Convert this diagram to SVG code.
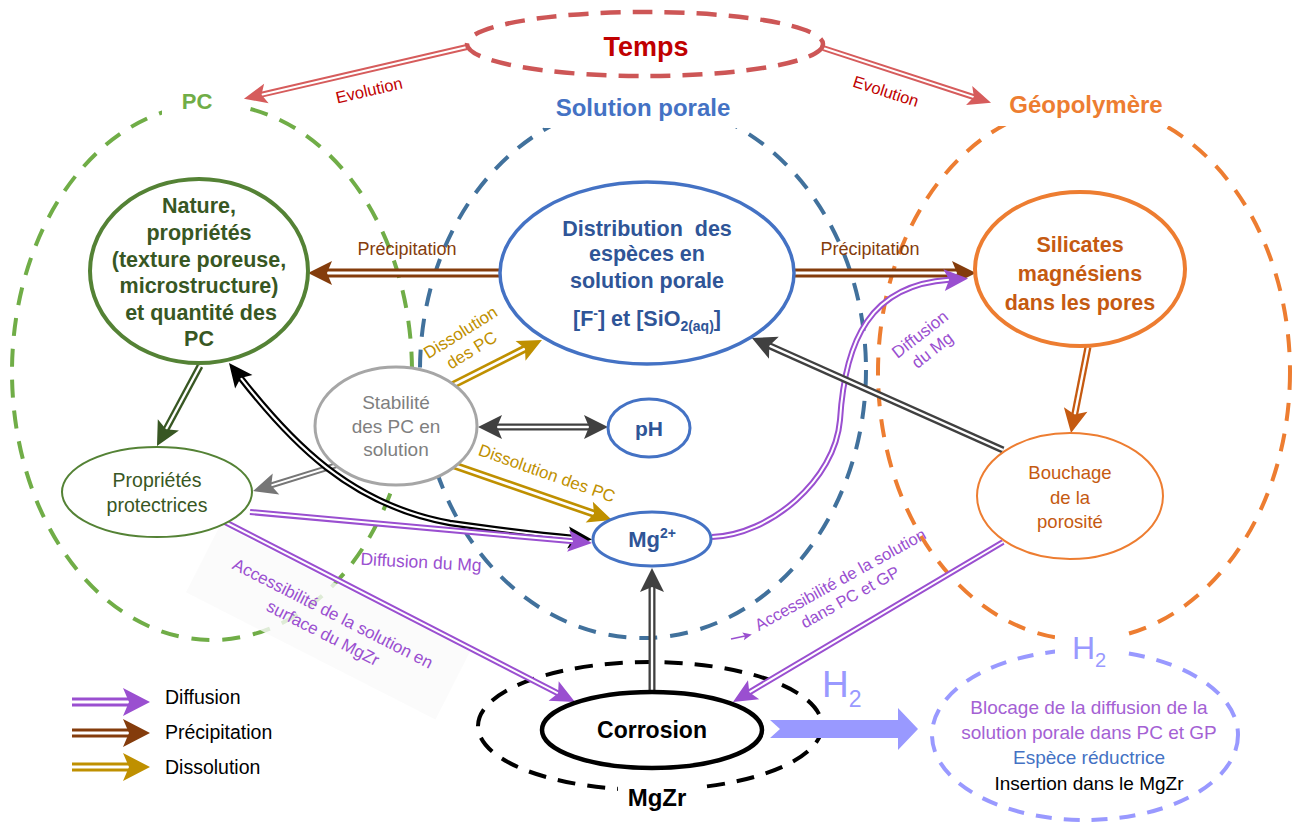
<svg xmlns="http://www.w3.org/2000/svg" width="1301" height="824" viewBox="0 0 1301 824">
<defs>
<style>
text { font-family: "Liberation Sans", Arial, sans-serif; }
.b { font-weight: bold; }
.m { text-anchor: middle; }
.circ { fill: none; stroke-width: 4; stroke-dasharray: 18 13; }
.hd { fill: none; stroke: none; }
.in { fill: none; stroke: #ffffff; }
.out { fill: none; }
.node { fill: #ffffff; }
.pre { white-space: pre; }
</style>
<marker id="mRed" viewBox="-10 -20 40 40" markerWidth="40" markerHeight="40" refX="0" refY="0" markerUnits="userSpaceOnUse" orient="auto-start-reverse"><path d="M-5,-10 L18,0 L-5,10 L0,0 Z" fill="#d65c5c"/></marker>
<marker id="mBrown" viewBox="-10 -20 40 40" markerWidth="40" markerHeight="40" refX="0" refY="0" markerUnits="userSpaceOnUse" orient="auto-start-reverse"><path d="M-5,-12 L19,0 L-5,12 L0,0 Z" fill="#843c0c"/></marker>
<marker id="mGold" viewBox="-10 -20 40 40" markerWidth="40" markerHeight="40" refX="0" refY="0" markerUnits="userSpaceOnUse" orient="auto-start-reverse"><path d="M-5,-11 L19,0 L-5,11 L0,0 Z" fill="#bf9000"/></marker>
<marker id="mDGray" viewBox="-10 -20 40 40" markerWidth="40" markerHeight="40" refX="0" refY="0" markerUnits="userSpaceOnUse" orient="auto-start-reverse"><path d="M-5,-12 L19,0 L-5,12 L0,0 Z" fill="#404040"/></marker>
<marker id="mGray" viewBox="-10 -20 40 40" markerWidth="40" markerHeight="40" refX="0" refY="0" markerUnits="userSpaceOnUse" orient="auto-start-reverse"><path d="M-5,-11 L19,0 L-5,11 L0,0 Z" fill="#767676"/></marker>
<marker id="mGreen" viewBox="-10 -20 40 40" markerWidth="40" markerHeight="40" refX="0" refY="0" markerUnits="userSpaceOnUse" orient="auto-start-reverse"><path d="M-5,-12 L19,0 L-5,12 L0,0 Z" fill="#385723"/></marker>
<marker id="mBlack" viewBox="-10 -20 40 40" markerWidth="40" markerHeight="40" refX="0" refY="0" markerUnits="userSpaceOnUse" orient="auto-start-reverse"><path d="M-5,-11 L19,0 L-5,11 L0,0 Z" fill="#000000"/></marker>
<marker id="mPurple" viewBox="-10 -20 40 40" markerWidth="40" markerHeight="40" refX="0" refY="0" markerUnits="userSpaceOnUse" orient="auto-start-reverse"><path d="M-5,-11 L19,0 L-5,11 L0,0 Z" fill="#9a4fd0"/></marker>
<marker id="mOrange" viewBox="-10 -20 40 40" markerWidth="40" markerHeight="40" refX="0" refY="0" markerUnits="userSpaceOnUse" orient="auto-start-reverse"><path d="M-5,-12 L19,0 L-5,12 L0,0 Z" fill="#c55a11"/></marker>
<marker id="mPurpleL" viewBox="-10 -20 40 40" markerWidth="40" markerHeight="40" refX="0" refY="0" markerUnits="userSpaceOnUse" orient="auto-start-reverse"><path d="M-6,-14 L21,0 L-6,14 L0,0 Z" fill="#9a4fd0"/></marker>
<marker id="mBrownL" viewBox="-10 -20 40 40" markerWidth="40" markerHeight="40" refX="0" refY="0" markerUnits="userSpaceOnUse" orient="auto-start-reverse"><path d="M-6,-14 L21,0 L-6,14 L0,0 Z" fill="#843c0c"/></marker>
<marker id="mGoldL" viewBox="-10 -20 40 40" markerWidth="40" markerHeight="40" refX="0" refY="0" markerUnits="userSpaceOnUse" orient="auto-start-reverse"><path d="M-6,-14 L21,0 L-6,14 L0,0 Z" fill="#bf9000"/></marker>
<marker id="mTiny" viewBox="-10 -20 40 40" markerWidth="40" markerHeight="40" refX="0" refY="0" markerUnits="userSpaceOnUse" orient="auto-start-reverse"><path d="M-2,-4 L7,0 L-2,4 L0,0 Z" fill="#9a4fd0"/></marker>
</defs>
<rect width="1301" height="824" fill="#ffffff"/>

<g id="region-pc">
<ellipse cx="212" cy="372" rx="200" ry="268" stroke="#70ad47" class="circ"/>
<rect x="162" y="80" width="78" height="38" fill="#ffffff"/>
<text x="197" y="109" class="b m" font-size="22" fill="#70ad47">PC</text>
</g>
<g id="region-solution">
<ellipse cx="643" cy="370" rx="223" ry="268" stroke="#41719c" class="circ"/>
<rect x="544" y="84" width="200" height="44" fill="#ffffff"/>
<text x="643" y="115.5" class="b m" font-size="24" fill="#4472c4">Solution porale</text>
</g>
<g id="region-geo">
<ellipse cx="1084" cy="372" rx="206" ry="268" stroke="#ed7d31" class="circ"/>
<rect x="996" y="82" width="180" height="44" fill="#ffffff"/>
<text x="1086" y="112.5" class="b m" font-size="24" fill="#ed7d31">Géopolymère</text>
</g>

<g id="mgzr">
<ellipse cx="650" cy="726" rx="172" ry="64" fill="none" stroke="#000000" stroke-width="4" stroke-dasharray="18 12"/>
<rect x="618" y="782" width="80" height="36" fill="#ffffff"/>
<text x="657" y="806" class="b m" font-size="24" fill="#000000">MgZr</text>
</g>

<g id="h2-effects">
<ellipse cx="1085" cy="735" rx="153" ry="85" fill="#ffffff" stroke="#9999ff" stroke-width="4" stroke-dasharray="16 12"/>
<rect x="1055" y="626" width="70" height="42" fill="#ffffff"/>
<text x="1072" y="659" font-size="32" fill="#9999ff">H<tspan font-size="20" dy="8">2</tspan></text>
<text x="1089" y="713.5" class="m" font-size="19" fill="#a461d4">Blocage de la diffusion de la</text>
<text x="1089" y="738.5" class="m" font-size="19" fill="#a461d4">solution porale dans PC et GP</text>
<text x="1089" y="763.5" class="m" font-size="19" fill="#4472c4">Espèce réductrice</text>
<text x="1089" y="789.5" class="m" font-size="19" fill="#000000">Insertion dans le MgZr</text>
</g>

<rect x="-140" y="-38" width="280" height="76" transform="translate(328,622) rotate(27)" fill="#fafafa" fill-opacity="0.8"/>

<g id="connectors">
<g id="c-evolution-left">
<path d="M467,47 L261.5,94.7" class="out" stroke="#d65c5c" stroke-width="6"/>
<path d="M467,47 L261.5,94.7" class="in" stroke-width="2"/>
<path d="M467,47 L261.5,94.7" class="hd" marker-end="url(#mRed)"/>
<text transform="translate(369,90) rotate(-13)" x="0" y="6" class="m" font-size="16.5" fill="#c00000">Evolution</text>
</g>
<g id="c-evolution-right">
<path d="M823,48 L973.9,97.1" class="out" stroke="#d65c5c" stroke-width="6"/>
<path d="M823,48 L973.9,97.1" class="in" stroke-width="2"/>
<path d="M823,48 L973.9,97.1" class="hd" marker-end="url(#mRed)"/>
<text transform="translate(886,91) rotate(18)" x="0" y="6" class="m" font-size="16.5" fill="#c00000">Evolution</text>
</g>
<g id="c-precip-left">
<path d="M500,273 L327,273" class="out" stroke="#843c0c" stroke-width="9"/>
<path d="M500,273 L327,273" class="in" stroke-width="3"/>
<path d="M500,273 L327,273" class="hd" marker-end="url(#mBrown)"/>
<text x="407" y="254.5" class="m" font-size="18" fill="#843c0c">Précipitation</text>
</g>
<g id="c-precip-right">
<path d="M793,273 L957,273" class="out" stroke="#843c0c" stroke-width="9"/>
<path d="M793,273 L957,273" class="in" stroke-width="3"/>
<path d="M793,273 L957,273" class="hd" marker-end="url(#mBrown)"/>
<text x="870" y="254.5" class="m" font-size="18" fill="#843c0c">Précipitation</text>
</g>
<g id="c-dissolution-up">
<path d="M453,385 L525,348.6" class="out" stroke="#bf9000" stroke-width="8"/>
<path d="M453,385 L525,348.6" class="in" stroke-width="2.7"/>
<path d="M453,385 L525,348.6" class="hd" marker-end="url(#mGold)"/>
<g transform="translate(466,341) rotate(-32)">
<text x="0" y="-4.5" class="m" font-size="17" fill="#bf9000">Dissolution</text>
<text x="0" y="16.5" class="m" font-size="17" fill="#bf9000">des PC</text>
</g>
</g>
<g id="c-dissolution-down">
<path d="M453,465 L594,513.8" class="out" stroke="#bf9000" stroke-width="8"/>
<path d="M453,465 L594,513.8" class="in" stroke-width="2.7"/>
<path d="M453,465 L594,513.8" class="hd" marker-end="url(#mGold)"/>
<text transform="translate(547,473) rotate(19.5)" x="0" y="6" class="m" font-size="17" fill="#bf9000">Dissolution des PC</text>
</g>
<g id="c-stab-ph">
<path d="M497,427 L589,427" class="out" stroke="#404040" stroke-width="7"/>
<path d="M497,427 L589,427" class="in" stroke-width="2.4"/>
<path d="M497,427 L589,427" class="hd" marker-start="url(#mDGray)" marker-end="url(#mDGray)"/>
</g>
<g id="c-stab-prop">
<path d="M337,465 L271.2,485.4" class="out" stroke="#767676" stroke-width="6"/>
<path d="M337,465 L271.2,485.4" class="in" stroke-width="2"/>
<path d="M337,465 L271.2,485.4" class="hd" marker-end="url(#mGray)"/>
</g>
<g id="c-nature-prop">
<path d="M200,366 L166,429.3" class="out" stroke="#385723" stroke-width="7"/>
<path d="M200,366 L166,429.3" class="in" stroke-width="2.4"/>
<path d="M200,366 L166,429.3" class="hd" marker-end="url(#mGreen)"/>
</g>
<g id="c-nature-mg">
<path d="M240.7,377.9 C290,441 350,505 450,523 C500,530 540,535 573.1,537.9" class="out" stroke="#000000" stroke-width="6.5"/>
<path d="M240.7,377.9 C290,441 350,505 450,523 C500,530 540,535 573.1,537.9" class="in" stroke-width="2.2"/>
<path d="M240.7,377.9 C290,441 350,505 450,523 C500,530 540,535 573.1,537.9" class="hd" marker-start="url(#mBlack)" marker-end="url(#mBlack)"/>
</g>
<g id="c-diffusion-mg">
<path d="M250,512 L573.1,541.3" class="out" stroke="#9a4fd0" stroke-width="6"/>
<path d="M250,512 L573.1,541.3" class="in" stroke-width="2"/>
<path d="M250,512 L573.1,541.3" class="hd" marker-end="url(#mPurple)"/>
<text transform="translate(421,562) rotate(3)" x="0" y="6" class="m" font-size="17.5" fill="#9a4fd0">Diffusion du Mg</text>
</g>
<g id="c-access-pc">
<path d="M225,522 L558.1,693.3" class="out" stroke="#9a4fd0" stroke-width="6"/>
<path d="M225,522 L558.1,693.3" class="in" stroke-width="2"/>
<path d="M225,522 L558.1,693.3" class="hd" marker-end="url(#mPurple)"/>
<g transform="translate(328,623) rotate(27)">
<text x="0" y="-5" class="m" font-size="17" fill="#9a4fd0">Accessibilité de la solution en</text>
<text x="0" y="17" class="m" font-size="17" fill="#9a4fd0">surface du MgZr</text>
</g>
</g>
<g id="c-access-gp">
<path d="M1003,542 L749.3,692.3" class="out" stroke="#9a4fd0" stroke-width="6"/>
<path d="M1003,542 L749.3,692.3" class="in" stroke-width="2"/>
<path d="M1003,542 L749.3,692.3" class="hd" marker-end="url(#mPurple)"/>
<g transform="translate(845,588) rotate(-29)">
<text x="0" y="-4" class="m" font-size="16.5" fill="#9a4fd0">Accessibilité de la solution</text>
<text x="0" y="16" class="m" font-size="16.5" fill="#9a4fd0">dans PC et GP</text>
</g>
<path d="M731,639 L745,636" fill="none" stroke="#9a4fd0" stroke-width="1.5" marker-end="url(#mTiny)"/>
</g>
<g id="c-mg-silicates">
<path d="M712,537 C770,535 835,480 840,420 C845,340 870,285 949.1,279.8" class="out" stroke="#9a4fd0" stroke-width="6"/>
<path d="M712,537 C770,535 835,480 840,420 C845,340 870,285 949.1,279.8" class="in" stroke-width="2"/>
<path d="M712,537 C770,535 835,480 840,420 C845,340 870,285 949.1,279.8" class="hd" marker-end="url(#mPurple)"/>
<g transform="translate(926,342) rotate(-38)">
<text x="0" y="-4" class="m" font-size="17" fill="#9a4fd0">Diffusion</text>
<text x="0" y="16" class="m" font-size="17" fill="#9a4fd0">du Mg</text>
</g>
</g>
<g id="c-bouchage-dist">
<path d="M1003,450 L769.3,345.7" class="out" stroke="#404040" stroke-width="7"/>
<path d="M1003,450 L769.3,345.7" class="in" stroke-width="2.4"/>
<path d="M1003,450 L769.3,345.7" class="hd" marker-end="url(#mDGray)"/>
</g>
<g id="c-sil-bouchage">
<path d="M1088,347 L1074.7,414.4" class="out" stroke="#c55a11" stroke-width="7"/>
<path d="M1088,347 L1074.7,414.4" class="in" stroke-width="2.4"/>
<path d="M1088,347 L1074.7,414.4" class="hd" marker-end="url(#mOrange)"/>
</g>
<g id="c-corr-mg">
<path d="M652,692 L652,587" class="out" stroke="#404040" stroke-width="7"/>
<path d="M652,692 L652,587" class="in" stroke-width="2.4"/>
<path d="M652,692 L652,587" class="hd" marker-end="url(#mDGray)"/>
</g>
<g id="c-h2">
<polygon points="770,720 898,720 898,708 918,729 898,750 898,738 770,738 780,729" fill="#9999ff"/>
<text x="822" y="697" font-size="37" fill="#9999ff">H<tspan font-size="23" dy="10">2</tspan></text>
</g>
</g>

<g id="node-temps">
<ellipse cx="645" cy="44" rx="178" ry="32" fill="#ffffff" stroke="#cd5656" stroke-width="4.5" stroke-dasharray="20 12"/>
<text x="646" y="55.5" class="b m" font-size="27" fill="#c00000">Temps</text>
</g>
<g id="node-nature">
<ellipse cx="199" cy="271" rx="109" ry="92" class="node" stroke="#548235" stroke-width="4"/>
<text x="199" y="212.5" class="b m" font-size="21.5" fill="#385723">Nature,</text>
<text x="199" y="239.5" class="b m" font-size="21.5" fill="#385723">propriétés</text>
<text x="199" y="267" class="b m" font-size="21.5" fill="#385723">(texture poreuse,</text>
<text x="199" y="293" class="b m" font-size="21.5" fill="#385723">microstructure)</text>
<text x="201" y="319.5" class="b m" font-size="21.5" fill="#385723">et quantité des</text>
<text x="199" y="345.5" class="b m" font-size="21.5" fill="#385723">PC</text>
</g>
<g id="node-distribution">
<ellipse cx="647" cy="273" rx="147" ry="91" class="node" stroke="#4472c4" stroke-width="3.5"/>
<text x="647" y="235.5" class="b m pre" font-size="21.5" fill="#2f5597">Distribution  des</text>
<text x="647" y="260.5" class="b m" font-size="21.5" fill="#2f5597">espèces en</text>
<text x="647" y="287.5" class="b m" font-size="21.5" fill="#2f5597">solution porale</text>
<text x="647" y="325.5" class="b m" font-size="21.5" fill="#2f5597">[F<tspan font-size="14" dy="-8">-</tspan><tspan dy="8">] et [SiO</tspan><tspan font-size="14" dy="5">2(aq)</tspan><tspan dy="-5">]</tspan></text>
</g>
<g id="node-silicates">
<ellipse cx="1080" cy="269" rx="105" ry="77" class="node" stroke="#ed7d31" stroke-width="4"/>
<text x="1080" y="251.5" class="b m" font-size="21.5" fill="#c55a11">Silicates</text>
<text x="1080" y="280.5" class="b m" font-size="21.5" fill="#c55a11">magnésiens</text>
<text x="1080" y="309.5" class="b m" font-size="21.5" fill="#c55a11">dans les pores</text>
</g>
<g id="node-stabilite">
<ellipse cx="396" cy="426" rx="81" ry="59" class="node" stroke="#a6a6a6" stroke-width="3"/>
<text x="396" y="409" class="m" font-size="19" fill="#7f7f7f">Stabilité</text>
<text x="396" y="433" class="m" font-size="19" fill="#7f7f7f">des PC en</text>
<text x="396" y="456" class="m" font-size="19" fill="#7f7f7f">solution</text>
</g>
<g id="node-ph">
<ellipse cx="649" cy="428" rx="41" ry="29" class="node" stroke="#4472c4" stroke-width="3"/>
<text x="649" y="435.5" class="b m" font-size="21" fill="#2f5597">pH</text>
</g>
<g id="node-mg">
<ellipse cx="652" cy="539" rx="59" ry="27" class="node" stroke="#4472c4" stroke-width="3"/>
<text x="652" y="547" class="b m" font-size="22" fill="#2f5597">Mg<tspan font-size="14" dy="-9">2+</tspan></text>
</g>
<g id="node-proprietes">
<ellipse cx="157" cy="492" rx="95" ry="45" class="node" stroke="#548235" stroke-width="2"/>
<text x="157" y="487" class="m" font-size="19.5" fill="#385723">Propriétés</text>
<text x="157" y="512" class="m" font-size="19.5" fill="#385723">protectrices</text>
</g>
<g id="node-bouchage">
<ellipse cx="1070" cy="496" rx="93" ry="63" class="node" stroke="#ed7d31" stroke-width="2"/>
<text x="1070" y="478.5" class="m" font-size="18.5" fill="#c55a11">Bouchage</text>
<text x="1070" y="503.5" class="m" font-size="18.5" fill="#c55a11">de la</text>
<text x="1070" y="527.5" class="m" font-size="18.5" fill="#c55a11">porosité</text>
</g>
<g id="node-corrosion">
<ellipse cx="652" cy="730" rx="110" ry="38" class="node" stroke="#000000" stroke-width="4.5"/>
<text x="652" y="738" class="b m" font-size="23" fill="#000000">Corrosion</text>
</g>

<g id="legend">
<path d="M72,702 L129,702" class="out" stroke="#9a4fd0" stroke-width="9"/>
<path d="M72,702 L129,702" class="in" stroke-width="3"/>
<path d="M72,702 L129,702" class="hd" marker-end="url(#mPurpleL)"/>
<text x="165" y="704" font-size="19.5" fill="#000000">Diffusion</text>
<path d="M72,733 L129,733" class="out" stroke="#843c0c" stroke-width="9"/>
<path d="M72,733 L129,733" class="in" stroke-width="3"/>
<path d="M72,733 L129,733" class="hd" marker-end="url(#mBrownL)"/>
<text x="165" y="739" font-size="19.5" fill="#000000">Précipitation</text>
<path d="M72,767 L129,767" class="out" stroke="#bf9000" stroke-width="9"/>
<path d="M72,767 L129,767" class="in" stroke-width="3"/>
<path d="M72,767 L129,767" class="hd" marker-end="url(#mGoldL)"/>
<text x="165" y="774" font-size="19.5" fill="#000000">Dissolution</text>
</g>
</svg>
